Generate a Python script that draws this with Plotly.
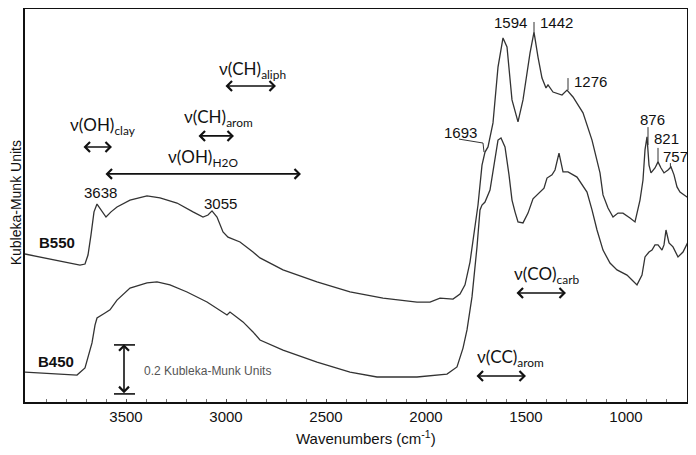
import plotly.graph_objects as go

# B550 spectrum (wavenumber, Kubelka-Munk units)
wn_b550 = [4005, 3930, 3855, 3780, 3730, 3705, 3690, 3675, 3660, 3645, 3625, 3600, 3575, 3545,
           3480, 3395, 3330, 3245, 3165, 3115, 3090, 3070, 3045, 3015, 2990, 2930, 2865, 2830,
           2715, 2545, 2380, 2215, 2045, 1980, 1930, 1865, 1830, 1805, 1780, 1760, 1740, 1720,
           1710, 1705, 1690, 1665, 1640, 1615, 1595, 1570, 1540, 1515, 1480, 1460, 1440, 1420,
           1400, 1390, 1365, 1320, 1295, 1265, 1215, 1170, 1130, 1115, 1090, 1065, 1040, 1015,
           980, 955, 930, 915, 905, 895, 885, 875, 855, 840, 825, 810, 790, 775, 760, 745, 730,
           710, 695, 680, 670]
km_b550 = [0.604, 0.592, 0.580, 0.567, 0.559, 0.563, 0.600, 0.682, 0.776, 0.808, 0.784, 0.755,
           0.776, 0.796, 0.824, 0.841, 0.833, 0.812, 0.776, 0.755, 0.763, 0.780, 0.755, 0.694,
           0.673, 0.653, 0.612, 0.588, 0.539, 0.490, 0.449, 0.424, 0.408, 0.408, 0.424, 0.420,
           0.441, 0.478, 0.571, 0.682, 0.804, 0.967, 1.008, 1.020, 1.041, 1.139, 1.367, 1.486,
           1.449, 1.233, 1.143, 1.233, 1.424, 1.510, 1.408, 1.322, 1.282, 1.294, 1.265, 1.253,
           1.273, 1.245, 1.180, 1.069, 0.935, 0.845, 0.792, 0.755, 0.771, 0.771, 0.751, 0.735,
           0.824, 0.906, 1.029, 1.082, 0.967, 0.935, 0.955, 0.980, 0.955, 0.935, 0.947, 0.959,
           0.927, 0.878, 0.857, 0.845, 0.837, 0.845, 0.853]

# B450 spectrum
wn_b450 = [4005, 3865, 3745, 3705, 3685, 3670, 3655, 3645, 3605, 3580, 3545, 3480, 3395, 3345,
           3280, 3195, 3095, 3015, 2995, 2980, 2915, 2865, 2830, 2715, 2545, 2380, 2245, 2045,
           1895, 1845, 1815, 1795, 1770, 1745, 1730, 1720, 1705, 1680, 1665, 1640, 1625, 1605,
           1585, 1570, 1555, 1540, 1515, 1490, 1465, 1430, 1410, 1395, 1370, 1355, 1335, 1315,
           1290, 1245, 1195, 1170, 1145, 1115, 1080, 1045, 995, 970, 945, 920, 905, 885, 870,
           855, 840, 820, 810, 800, 785, 765, 740, 715, 690, 680, 670]
km_b450 = [0.122, 0.114, 0.110, 0.139, 0.192, 0.241, 0.314, 0.343, 0.363, 0.376, 0.416, 0.465,
           0.486, 0.490, 0.478, 0.449, 0.408, 0.363, 0.355, 0.367, 0.327, 0.286, 0.253, 0.212,
           0.163, 0.122, 0.102, 0.102, 0.114, 0.143, 0.220, 0.294, 0.429, 0.633, 0.784, 0.804,
           0.816, 0.865, 0.935, 1.069, 1.078, 1.041, 0.927, 0.824, 0.776, 0.735, 0.731, 0.771,
           0.829, 0.857, 0.873, 0.914, 0.927, 0.947, 1.016, 0.939, 0.939, 0.918, 0.857, 0.784,
           0.702, 0.620, 0.567, 0.539, 0.518, 0.498, 0.478, 0.518, 0.592, 0.612, 0.620, 0.641,
           0.641, 0.620, 0.641, 0.702, 0.649, 0.633, 0.592, 0.612, 0.653, 0.669, 0.678]

x_ticks = [3500, 3000, 2500, 2000, 1500, 1000]

# peak labels: text, x, y
peak_text = ["3638", "3055", "1693", "1594", "1442", "1276", "876", "821", "757"]
peak_x = [3630, 3030, 1830, 1580, 1350, 1180, 870, 800, 752]
peak_y = [0.857, 0.812, 1.102, 1.547, 1.547, 1.310, 1.155, 1.075, 1.0]

# band assignments: label, text pos, arrow start/end, arrow y
band_text = ["ν(OH)<sub>clay</sub>", "ν(CH)<sub>arom</sub>", "ν(CH)<sub>aliph</sub>",
             "ν(OH)<sub>H2O</sub>", "ν(CO)<sub>carb</sub>", "ν(CC)<sub>arom</sub>"]
band_tx = [3615, 3040, 2870, 3115, 1400, 1580]
band_ty = [1.125, 1.158, 1.355, 0.995, 0.517, 0.178]
band_x0 = [3720, 3145, 3010, 3610, 1555, 1755]
band_x1 = [3570, 2960, 2750, 2625, 1300, 1500]
band_ay = [1.041, 1.086, 1.290, 0.931, 0.445, 0.106]

fig = go.Figure()
for wn, km in [(wn_b550, km_b550), (wn_b450, km_b450)]:
    fig.add_trace(go.Scatter(x=wn, y=km, mode="lines", line=dict(color="#333333", width=1.3),
                             showlegend=False, hoverinfo="skip"))

num_font = dict(family="Liberation Sans, Arial", size=15, color="#111111")
for t, x, y in zip(peak_text, peak_x, peak_y):
    fig.add_annotation(x=x, y=y, text=t, showarrow=False, font=num_font)

band_font = dict(family="Lato, Noto Sans, sans-serif", size=17, color="#111111")
for t, tx, ty, x0, x1, ay in zip(band_text, band_tx, band_ty, band_x0, band_x1, band_ay):
    fig.add_annotation(x=tx, y=ty, text=t, showarrow=False, font=band_font)
    fig.add_annotation(x=x1, y=ay, ax=x0, ay=ay, xref="x", yref="y", axref="x", ayref="y",
                       text="", showarrow=True, arrowhead=4, startarrowhead=4,
                       arrowside="end+start", arrowwidth=1.6, arrowsize=1.2,
                       startarrowsize=1.2, arrowcolor="#111111", standoff=0, startstandoff=0)

# sample names
fig.add_annotation(x=3845, y=0.653, text="<b>B550</b>", showarrow=False, font=num_font)
fig.add_annotation(x=3850, y=0.167, text="<b>B450</b>", showarrow=False, font=num_font)

# scale bar
fig.add_annotation(x=3510, y=0.236, ax=3510, ay=0.030, xref="x", yref="y", axref="x", ayref="y",
                   text="", showarrow=True, arrowhead=4, startarrowhead=4, arrowside="end+start",
                   arrowwidth=1.6, arrowsize=1.2, startarrowsize=1.2, arrowcolor="#111111")
for yy in [0.233, 0.033]:
    fig.add_shape(type="line", x0=3560, x1=3455, y0=yy, y1=yy, line=dict(color="#111111", width=1.6))
fig.add_annotation(x=3420, y=0.127, text="0.2 Kubleka-Munk Units", showarrow=False, xanchor="left",
                   font=dict(family="Liberation Sans, Arial", size=12, color="#555555"))

# leader lines to peaks
leaders = [(1460, 1.551, 1460, 1.510), (1290, 1.322, 1290, 1.273), (1835, 1.073, 1715, 1.057),
           (1715, 1.057, 1710, 1.020), (890, 1.122, 890, 1.049), (840, 1.037, 840, 0.980),
           (778, 0.975, 778, 0.955)]
for x0, y0, x1, y1 in leaders:
    fig.add_shape(type="line", x0=x0, y0=y0, x1=x1, y1=y1, line=dict(color="#333333", width=1))

# axis titles
title_font = dict(family="Liberation Sans, Arial", size=15, color="#111111")
fig.add_annotation(x=0.515, y=-0.0915, xref="paper", yref="paper", xanchor="center", yanchor="middle",
                   text="Wavenumbers (cm<sup>-1</sup>)", showarrow=False, font=title_font)
fig.add_annotation(x=-0.0136, y=0.508, xref="paper", yref="paper", xanchor="center", yanchor="middle",
                   text="Kubleka-Munk Units", textangle=-90, showarrow=False,
                   font=dict(family="Liberation Sans, Arial", size=14, color="#111111"))

fig.update_xaxes(range=[4005, 695], showline=True, linecolor="#111111", linewidth=1.5, mirror=True,
                 showgrid=False, zeroline=False, ticks="inside", ticklen=3, tickcolor="#555555",
                 tickvals=x_ticks, tickfont=dict(family="Liberation Sans, Arial", size=15, color="#111111"),
                 minor=dict(ticks="inside", dtick=100, ticklen=3, tickcolor="#777777"),
                 automargin=False)
fig.update_yaxes(range=[0, 1.604], showline=True, linecolor="#111111", linewidth=1.5, mirror=True,
                 showgrid=False, zeroline=False, showticklabels=False, ticks="", automargin=False)
# the page body adds 8px around the figure, so the figure is 16px smaller than the window
fig.update_layout(width=680, height=439, plot_bgcolor="white", paper_bgcolor="white",
                  margin=dict(l=17, r=1, t=1, b=45))
fig.write_html("out.html")
